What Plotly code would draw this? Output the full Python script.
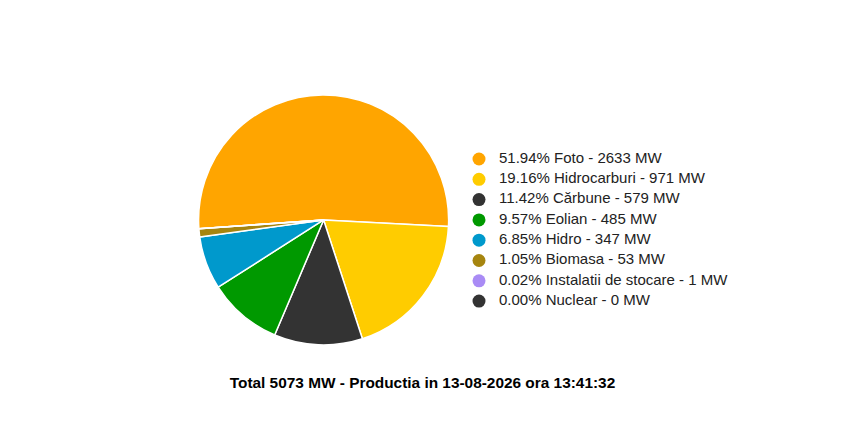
import plotly.graph_objects as go

# date
surse = ["Foto", "Hidrocarburi", "Cărbune", "Eolian", "Hidro", "Biomasa",
         "Instalatii de stocare", "Nuclear"]
procente = [51.94, 19.16, 11.42, 9.57, 6.85, 1.05, 0.02, 0.00]
putere_mw = [2633, 971, 579, 485, 347, 53, 1, 0]
culori = ["#FFA500", "#FFCC00", "#333333", "#009900", "#0099CC", "#A6850F",
          "#A98BF5", "#333333"]
titlu = "Total 5073 MW - Productia in 13-08-2026 ora 13:41:32"

etichete = [f"{p:.2f}% {s} - {v} MW" for p, s, v in zip(procente, surse, putere_mw)]
randuri = list(range(len(surse)))

fig = go.Figure()
fig.add_trace(go.Pie(
    labels=surse,
    values=procente,
    marker=dict(colors=culori, line=dict(color="white", width=1.5)),
    sort=False,
    direction="clockwise",
    rotation=266,
    textinfo="none",
    hoverinfo="label+value",
    showlegend=False,
    domain=dict(x=[0.2255, 0.5215], y=[0.209, 0.796]),
))

# legenda desenata ca scatter pe axe ascunse (axele sunt in pixeli)
fig.add_trace(go.Scatter(
    x=[0] * len(randuri), y=randuri, mode="markers",
    marker=dict(symbol="circle", size=13, color=culori),
    hoverinfo="skip", showlegend=False,
))
fig.add_trace(go.Scatter(
    x=[20] * len(randuri), y=randuri, mode="text", text=etichete,
    textposition="middle right",
    textfont=dict(size=15, color="#222222"),
    hoverinfo="skip", showlegend=False,
))

fig.update_layout(
    width=845, height=426,
    margin=dict(l=0, r=0, t=0, b=0),
    paper_bgcolor="white",
    plot_bgcolor="rgba(0,0,0,0)",
    font=dict(family="Liberation Sans, Arial, sans-serif", size=15, color="#222222"),
    xaxis=dict(visible=False, range=[-471, 374], domain=[0, 1], fixedrange=True),
    yaxis=dict(visible=False, range=[(426 - 151) / 20.3, -151 / 20.3],
               domain=[0, 1], fixedrange=True),
    showlegend=False,
    title=dict(text="<b>" + titlu + "</b>", x=0.4905, xanchor="center",
               y=1 - 375 / 426, yanchor="middle",
               font=dict(size=15.4, color="#000000")),
)

fig.write_html("out.html")
